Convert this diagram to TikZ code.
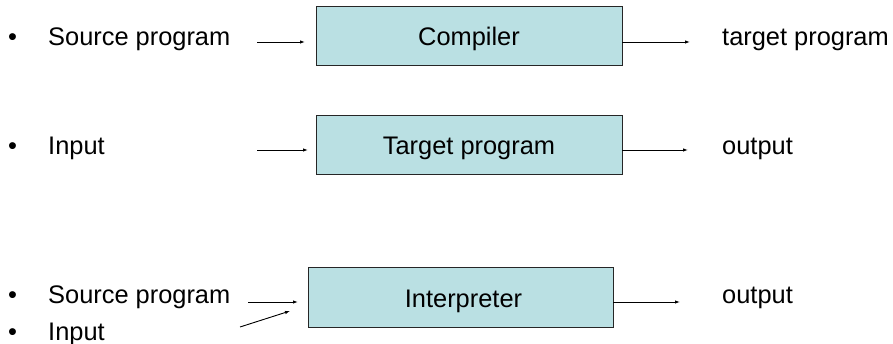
\documentclass[tikz,border=0pt]{standalone}
\usepackage{fontspec}
\setmainfont{Liberation Sans}
\usetikzlibrary{arrows.meta}
\definecolor{boxfill}{RGB}{186,224,227}
\begin{document}
\begin{tikzpicture}[x=1pt,y=-1pt,
  txt/.style={inner sep=0pt,anchor=base west,font=\fontsize{25.4}{30}\selectfont},
  ctxt/.style={inner sep=0pt,anchor=base,font=\fontsize{25.4}{30}\selectfont},
  procbox/.style={draw=black!85,line width=1pt,fill=boxfill,inner sep=0pt,minimum width=306pt,minimum height=59pt},
  arr/.style={line width=0.9pt,-{Latex[length=5pt,width=3.5pt]}}]
\useasboundingbox (0,0) rectangle (893,344);
% row 1
\node[txt] (b1) at (8,46) {•};
\node[txt] (src1) at (48,46) {Source program};
\node[procbox] (comp) at (469,36.5) {};
\node[ctxt] (compt) at (469,46) {Compiler};
\node[txt] (tgt) at (722,46) {target program};
\coordinate (a1s) at (257,42);
\coordinate (a1e) at (305,42);
\coordinate (o1s) at (622,42);
\coordinate (o1e) at (690,42);
\draw[arr] (a1s) -- (a1e);
\draw[arr] (o1s) -- (o1e);
% row 2
\node[txt] (b2) at (8,155) {•};
\node[txt] (inp2) at (48,155) {Input};
\node[procbox] (tp) at (469,145.5) {};
\node[ctxt] (tpt) at (469,155) {Target program};
\node[txt] (out2) at (722,155) {output};
\coordinate (a2s) at (257,150);
\coordinate (a2e) at (308,150);
\coordinate (o2s) at (622,150);
\coordinate (o2e) at (688,150);
\draw[arr] (a2s) -- (a2e);
\draw[arr] (o2s) -- (o2e);
% row 3
\node[txt] (b3) at (8,303) {•};
\node[txt] (src3) at (48,303) {Source program};
\node[txt] (b4) at (8,340) {•};
\node[txt] (inp3) at (48,340) {Input};
\node[procbox,minimum width=305pt] (interp) at (460.5,297.5) {};
\node[ctxt] (interpt) at (463.5,308) {Interpreter};
\node[txt] (out3) at (722,303) {output};
\coordinate (a3s) at (248,302);
\coordinate (a3e) at (298,302);
\coordinate (a4s) at (240,327);
\coordinate (a4e) at (290,311);
\coordinate (o3s) at (613,302);
\coordinate (o3e) at (680,302);
\draw[arr] (a3s) -- (a3e);
\draw[arr] (a4s) -- (a4e);
\draw[arr] (o3s) -- (o3e);
\end{tikzpicture}
\end{document}
